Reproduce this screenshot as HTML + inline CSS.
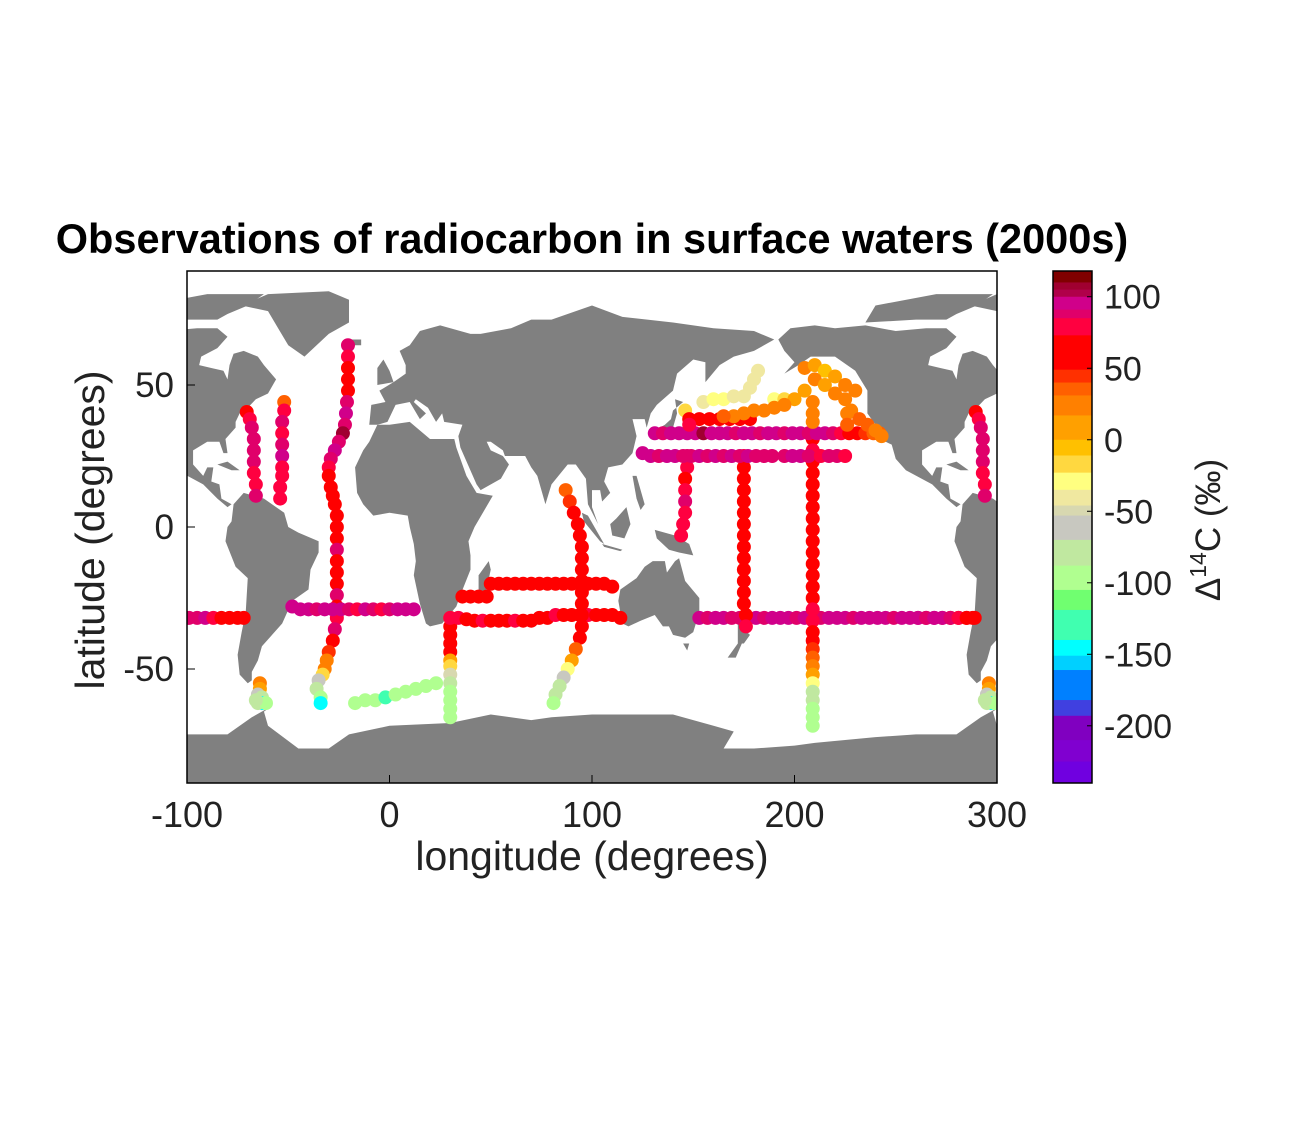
<!DOCTYPE html>
<html><head><meta charset="utf-8">
<style>
html,body{margin:0;padding:0;background:#fff;}
svg text{font-family:"Liberation Sans",sans-serif;}
</style></head>
<body>
<svg id="chart" width="1294" height="1116" viewBox="0 0 1294 1116" xmlns="http://www.w3.org/2000/svg">
<rect width="1294" height="1116" fill="#fff"/>
<text x="592" y="253" text-anchor="middle" font-size="41.5" font-weight="bold" fill="#000">Observations of radiocarbon in surface waters (2000s)</text>
<defs><clipPath id="plotclip"><rect x="187" y="271" width="810" height="512"/></clipPath></defs>
<g id="land" clip-path="url(#plotclip)"></g>
<g id="pts" clip-path="url(#plotclip)"></g>
<rect x="187" y="271" width="810" height="512" fill="none" stroke="#000" stroke-width="1.5"/>
<g id="axes"></g>
<g id="cbar"></g>
<text x="592" y="870" text-anchor="middle" font-size="41" fill="#222">longitude (degrees)</text>
<text transform="translate(104,530) rotate(-90)" text-anchor="middle" font-size="41" fill="#222">latitude (degrees)</text>
<text transform="translate(1220,530) rotate(-90)" text-anchor="middle" font-size="35" fill="#222">Δ<tspan dy="-14" font-size="23">14</tspan><tspan dy="14">C (‰)</tspan></text>
</svg>
<script>
// ---- axis definitions ----
const xTicks = [-100, 0, 100, 200, 300];
const yTicks = [-50, 0, 50];
const cbarTicks = [100, 50, 0, -50, -100, -150, -200];
const cbarMin = -240, cbarMax = 118;
// colormap band upper bounds (values) and colours
const cmapTops = [118, 110, 105, 100, 91, 85, 73, 49, 40, 31, 17, 0, -11, -23, -35, -46, -53, -70, -88, -105, -119, -140, -151, -161, -182, -193, -210, -225];
const cmapCols = ["#800000","#a00030","#b0004a","#d0008a","#e0006a","#ff0040","#ff0000","#ff3000","#ff6000","#ff8000","#ffa000","#ffc000","#ffd840","#ffff80","#f0e8a0","#d8d8b0","#c8c8c0","#c0e8a0","#b0ff90","#70ff70","#40ffb0","#00ffff","#00d0ff","#0080ff","#4040e0","#8000c0","#8000d0","#7000e0"];

// ---- observation tracks: [lon, lat, D14C] ----
const trackSPac = [[-99,-32,90],[-95,-32,88],[-91,-32,92],[-87,-32,85],[-83,-32,70],[-79,-32,65],[-75,-32,72],[-72,-32,65]];
const trackAtl = [[-20.5,64,90],[-20.5,60,80],[-20.5,56,65],[-20.5,52,62],[-20.5,48,70],[-21,44,88],[-21.5,40,92],[-22,36,90],[-23,33,108],[-25,30,90],[-27,27,92],[-29,24,88],[-30,21,75],[-30,18,70],[-29,14,65],[-28,11,60],[-27,8,65],[-26,4,60],[-26,0,62],[-26,-4,65],[-26,-8,90],[-26,-12,62],[-26,-16,65],[-26,-20,60],[-26,-24,88],[-26,-28,70],[-26,-32,80],[-27,-36,88],[-28,-40,60],[-30,-44,45],[-31,-47,30],[-32,-50,25],[-33,-52,-20],[-35,-54,-55],[-36,-57,-80],[-34,-60,-95],[-34,-62,-140]];
const trackWAtl1 = [[-70.5,40.5,60],[-69,38,75],[-68,35,90],[-67,31,90],[-67,27,88],[-67,23,90],[-67,19,85],[-66,15,75],[-66,11,90]];
const trackWAtl2 = [[-52,44,40],[-52,41,75],[-53,37,90],[-53,33,85],[-53,29,90],[-53,25,92],[-53,21,75],[-53,18,82],[-54,14,80],[-54,10,80]];
const trackSAtl = [[-48,-28,95],[-44,-29,92],[-40,-29,95],[-36,-29,90],[-32,-29,96],[-28,-29,100],[-24,-29,95],[-20,-29,90],[-16,-29,85],[-12,-29,95],[-8,-29,88],[-4,-29,85],[0,-29,90],[4,-29,95],[8,-29,92],[12,-29,95]];
const trackDrake = [[-64,-55,25],[-64,-57,5],[-65,-59,-60],[-63,-60,-70],[-63,-62,-150],[-65,-62,-80],[-61,-62,-100],[-66,-61,-70]];
const trackSouth = [[-17,-62,-100],[-12,-61,-100],[-7,-61,-95],[-2,-60,-130],[3,-59,-100],[8,-58,-95],[13,-57,-100],[18,-56,-100],[23,-55,-95]];
const trackAg = [[30,-32,40],[30,-35,55],[30,-38,60],[30,-41,60],[30,-44,55],[30,-47,10],[30,-49,-20],[30,-52,-50],[30,-55,-85],[30,-58,-100],[30,-61,-100],[30,-64,-100],[30,-67,-100]];
const trackInd20 = [[36,-24.5,65],[40,-24.5,65],[44,-24.5,62],[48,-24.5,65],[50,-20,65],[54,-20,62],[58,-20,65],[62,-20,60],[66,-20,65],[70,-20,62],[74,-20,65],[78,-20,60],[82,-20,65],[86,-20,62],[90,-20,65],[94,-20,60],[98,-20,62],[102,-20,65],[106,-20,62],[110,-21,70]];
const trackInd32 = [[30,-32,80],[34,-32,75],[38,-32.5,72],[42,-33,70],[46,-33,75],[50,-33,70],[54,-33,72],[58,-33,70],[62,-33,75],[66,-33,70],[70,-33,65],[74,-32,72],[78,-32,70],[82,-31,75],[86,-31,70],[90,-31,72],[94,-31,70],[98,-31,75],[102,-31,70],[106,-31,70],[110,-31,65],[114,-32,70]];
const trackI8 = [[87,13,35],[89,9,45],[91,5,55],[93,1,65],[94,-3,65],[95,-7,62],[95,-11,65],[95,-15,60],[95,-19,65],[95,-23,62],[95,-27,65],[95,-31,60],[95,-35,62],[94,-39,55],[92,-43,40],[90,-47,10],[88,-50,-30],[86,-53,-55],[84,-56,-75],[82,-59,-85],[81,-62,-95]];
const trackP6 = [[153,-32,92],[157,-32,90],[161,-32,95],[165,-32,92],[169,-32,88],[173,-32,90],[177,-32,92],[181,-32,95],[185,-32,90],[189,-32,92],[193,-32,95],[197,-32,92],[201,-32,90],[205,-32,92],[209,-32,95],[213,-32,90],[217,-32,92],[221,-32,95],[225,-32,92],[229,-32,90],[233,-32,100],[237,-32,95],[241,-32,92],[245,-32,95],[249,-32,90],[253,-32,92],[257,-32,95],[261,-32,92],[265,-32,90],[269,-32,92],[273,-32,95],[277,-32,90],[281,-32,80],[285,-32,70],[289,-32,65]];
const trackP15 = [[175,25,80],[175,21,70],[175,17,68],[175,13,65],[175,9,70],[175,5,65],[175,1,68],[175,-3,65],[175,-7,70],[175,-11,65],[175,-15,68],[175,-19,65],[175,-23,70],[175,-27,65],[176,-31,72],[176,-35,75]];
const trackP16 = [[209,31,70],[209,27,75],[209,23,68],[209,19,70],[209,15,65],[209,11,68],[209,7,70],[209,3,65],[209,-1,68],[209,-5,65],[209,-9,70],[209,-13,65],[209,-17,68],[209,-21,65],[209,-25,70],[209,-29,80],[209,-33,75],[209,-37,65],[209,-40,55],[209,-43,45],[209,-46,35],[209,-49,30],[209,-52,15],[209,-55,-30],[209,-58,-70],[209,-61,-85],[209,-64,-95],[209,-67,-100],[209,-70,-100]];
const trackWPac = [[147,25,90],[147,21,85],[146,17,70],[146,13,80],[146,9,90],[146,5,75],[145,1,80],[144,-3,75]];
const trackNP33 = [[131,33,95],[135,33,90],[139,33,92],[143,33,95],[147,33,100],[151,33,92],[155,33,108],[159,33,95],[163,33,92],[167,33,95],[171,33,90],[175,33,92],[179,33,95],[183,33,90],[187,33,92],[191,33,95],[195,33,90],[199,33,92],[203,33,95],[207,33,90],[211,33,92],[215,33,95],[219,33,90],[223,33,75],[227,33,60],[231,33,55],[235,33,45],[239,33,40],[242,33,35]];
const trackNP25 = [[125,26,92],[129,25,95],[133,25,90],[137,25,92],[141,25,95],[145,25,90],[149,25,88],[153,25,92],[157,25,90],[161,25,92],[165,25,90],[169,25,92],[173,25,90],[177,25,92],[181,25,90],[185,25,88],[189,25,90],[195,25,90],[199,25,92],[203,25,95],[207,25,90],[213,25,75],[217,25,88],[221,25,90],[225,25,85]];
const trackNP38 = [[146,41,-20],[148,38,65],[153,38,65],[158,38,68],[163,38,70],[168,38,62],[173,38,65],[178,38,60],[148,36,80]];
const trackNP46 = [[155,44,-35],[160,45,-30],[165,45,-30],[170,46,-35],[175,46,-40],[178,49,-40],[180,52,-45],[182,55,-45],[190,45,-25],[195,45,-20]];
const trackNEP = [[205,56,20],[210,57,15],[215,55,-10],[220,53,15],[225,50,20],[230,48,25],[210,52,20],[215,50,15],[220,47,20],[205,48,10],[200,45,15],[195,43,20],[190,42,25],[185,41,25],[180,41,30],[175,40,30],[170,39,30],[165,39,35],[225,45,25],[228,41,30],[232,38,35],[236,36,35],[240,34,30],[243,32,25],[209,44,20],[209,40,25],[209,37,30],[226,40,30],[226,36,35]];
const tracks = [trackSPac, trackAtl, trackWAtl1, trackWAtl2, trackSAtl, trackDrake, trackSouth, trackAg, trackInd20, trackInd32, trackI8, trackP6, trackP15, trackP16, trackWPac, trackNP33, trackNP25, trackNP38, trackNP46, trackNEP];

// ---- land polygons [lon,lat] ----
const landNA = [[-168,66],[-162,70],[-150,71],[-140,70],[-125,71],[-110,69],[-95,70],[-85,70],[-80,67],[-85,63],[-93,60],[-94,57],[-88,56],[-82,55],[-80,52],[-79,57],[-77,61],[-72,62],[-65,60],[-62,57],[-56,52],[-60,47],[-66,45],[-70,42],[-74,40],[-76,37],[-76,35],[-81,31],[-80,26],[-82,26],[-84,30],[-90,30],[-97,27],[-97,22],[-92,18],[-90,21],[-87,21],[-88,16],[-84,15],[-83,10],[-78,8],[-80,7],[-85,10],[-92,15],[-105,20],[-110,24],[-112,29],[-115,30],[-118,34],[-124,40],[-124,48],[-130,55],[-140,60],[-152,60],[-158,57],[-165,54],[-160,58],[-165,62]];
const landArctic = [[-125,72],[-100,73],[-85,73],[-80,75],[-70,78],[-62,82],[-90,82],[-120,78]];
const landGreen = [[-73,78],[-60,82],[-30,83],[-20,80],[-20,72],[-30,68],[-42,60],[-50,64],[-55,70],[-60,76]];
const landSA = [[-77,8],[-72,12],[-62,10],[-52,5],[-50,0],[-45,-2],[-35,-5],[-35,-9],[-39,-15],[-40,-22],[-48,-26],[-53,-34],[-58,-38],[-63,-42],[-65,-47],[-68,-51],[-68,-54],[-70,-55],[-74,-52],[-75,-45],[-73,-37],[-71,-30],[-70,-18],[-76,-14],[-81,-5],[-80,0],[-78,2]];
const landAfr = [[-17,21],[-16,12],[-13,8],[-8,4],[0,5],[9,4],[10,0],[12,-6],[13,-12],[12,-17],[15,-27],[18,-34],[20,-35],[26,-34],[33,-28],[35,-24],[40,-15],[40,-10],[39,-5],[42,0],[51,11],[43,12],[38,18],[33,28],[32,31],[20,31],[10,37],[0,36],[-6,36],[-10,30],[-13,27]];
const landMad = [[44,-25],[47,-25],[50,-15],[49,-12],[44,-17]];
const landEur = [[-10,36],[-9,43],[-2,44],[-5,48],[2,51],[8,54],[8,57],[5,62],[10,64],[15,69],[25,71],[40,68],[45,68],[60,70],[70,73],[80,73],[100,78],[115,74],[140,72],[160,70],[180,69],[190,66],[180,62],[170,60],[163,57],[156,51],[156,58],[150,59],[142,54],[140,48],[132,43],[129,40],[127,35],[126,38],[120,38],[122,32],[120,26],[115,22],[108,21],[106,16],[109,12],[105,9],[104,13],[100,13],[100,7],[103,1],[98,8],[97,17],[92,22],[88,22],[80,15],[77,8],[73,18],[70,21],[67,25],[57,25],[56,27],[50,30],[48,30],[50,27],[56,25],[59,22],[55,17],[45,13],[43,15],[35,28],[34,32],[36,36],[27,37],[26,40],[23,37],[19,42],[13,45],[12,44],[18,40],[15,38],[10,44],[3,43],[-1,37],[-6,36]];
const landUK = [[-6,50],[2,51],[0,55],[-3,59],[-6,56]];
const landIce = [[-24,64],[-14,64],[-14,66],[-22,66]];
const landJap = [[130,31],[135,34],[140,35],[142,40],[141,45],[145,44],[140,41],[139,38],[136,36],[131,34]];
const landSum = [[95,5],[98,4],[106,-6],[104,-5],[96,2]];
const landBor = [[109,1],[112,3],[117,7],[119,1],[116,-4],[110,-3]];
const landJava = [[105,-6],[115,-8],[114,-8.5],[106,-7]];
const landPNG = [[131,-1],[141,-3],[148,-6],[150,-10],[143,-9],[138,-8],[132,-4]];
const landPhil = [[120,18],[122,18],[126,8],[124,6],[122,10]];
const landAus = [[114,-22],[122,-18],[126,-14],[130,-12],[136,-12],[137,-16],[141,-12],[143,-11],[146,-19],[153,-25],[153,-30],[150,-37],[146,-39],[140,-38],[138,-35],[135,-35],[131,-31],[124,-33],[118,-35],[115,-34],[113,-26]];
const landTas = [[145,-41],[148,-41],[147,-43.5]];
const landNZ1 = [[172,-34],[178,-38],[175,-41],[172,-41]];
const landNZ2 = [[172,-41],[174,-41],[171,-46],[167,-46]];
const landCuba = [[-85,22],[-80,23],[-74,20],[-78,20]];
const landAnt = [[-180,-90],[-180,-78],[-160,-77],[-150,-76],[-120,-74],[-100,-73],[-80,-73],[-68,-67],[-58,-63],[-62,-65],[-60,-70],[-45,-78],[-30,-78],[-20,-73],[0,-70],[30,-69],[50,-66],[70,-68],[80,-67],[100,-66],[120,-66],[140,-66],[160,-70],[170,-72],[165,-78],[180,-78],[180,-90]];
const lands = [landNA, landArctic, landGreen, landSA, landAfr, landMad, landEur, landUK, landIce, landJap, landSum, landBor, landJava, landPNG, landPhil, landAus, landTas, landNZ1, landNZ2, landCuba, landAnt];

const NS = "http://www.w3.org/2000/svg";
const X0 = 187, X1 = 997, Y0 = 271, Y1 = 783;
function xs(lon){ return X0 + (lon + 100) / 400 * (X1 - X0); }
function ys(lat){ return 527 - lat * 2.84; }
function cy(v){ return Y0 + (cbarMax - v) / (cbarMax - cbarMin) * (Y1 - Y0); }
function cmap(v){
  let c = cmapCols[0];
  for (let i = 0; i < cmapTops.length; i++){ if (v <= cmapTops[i]) c = cmapCols[i]; }
  return c;
}

const landG = document.getElementById('land');
lands.forEach(poly => {
  [-360, 0, 360].forEach(sh => {
    const p = document.createElementNS(NS, 'polygon');
    p.setAttribute('points', poly.map(q => xs(q[0] + sh) + ',' + ys(q[1])).join(' '));
    p.setAttribute('fill', '#808080');
    
    
    landG.appendChild(p);
  });
});

const ptG = document.getElementById('pts');
tracks.forEach(tr => {
  tr.forEach(d => {
    [0, 360].forEach(sh => {
      const c = document.createElementNS(NS, 'circle');
      c.setAttribute('cx', xs(d[0] + sh));
      c.setAttribute('cy', ys(d[1]));
      c.setAttribute('r', 7);
      c.setAttribute('fill', cmap(d[2]));
      
      
      ptG.appendChild(c);
    });
  });
});

const ax = document.getElementById('axes');
xTicks.forEach(t => {
  const x = xs(t);
  const l = document.createElementNS(NS, 'line');
  l.setAttribute('x1', x); l.setAttribute('x2', x); l.setAttribute('y1', Y1); l.setAttribute('y2', Y1 - 8);
  l.setAttribute('stroke', '#000');
  
  
  ax.appendChild(l);
  const tx = document.createElementNS(NS, 'text');
  tx.setAttribute('x', x); tx.setAttribute('y', 827);
  tx.setAttribute('text-anchor', 'middle'); tx.setAttribute('font-size', '36'); tx.setAttribute('fill', '#222');
  tx.textContent = t;
  
  
  ax.appendChild(tx);
});
yTicks.forEach(t => {
  const y = ys(t);
  const l = document.createElementNS(NS, 'line');
  l.setAttribute('x1', X0); l.setAttribute('x2', X0 + 8); l.setAttribute('y1', y); l.setAttribute('y2', y);
  l.setAttribute('stroke', '#000');
  
  
  ax.appendChild(l);
  const tx = document.createElementNS(NS, 'text');
  tx.setAttribute('x', 174); tx.setAttribute('y', y + 12);
  tx.setAttribute('text-anchor', 'end'); tx.setAttribute('font-size', '35'); tx.setAttribute('fill', '#222');
  tx.textContent = t;
  
  
  ax.appendChild(tx);
});

const cb = document.getElementById('cbar');
const CX = 1053, CW = 39;
for (let i = 0; i < cmapTops.length; i++){
  const top = cy(cmapTops[i]);
  const bot = i + 1 < cmapTops.length ? cy(cmapTops[i + 1]) : Y1;
  const r = document.createElementNS(NS, 'rect');
  r.setAttribute('x', CX); r.setAttribute('y', top); r.setAttribute('width', CW); r.setAttribute('height', bot - top + 0.5);
  r.setAttribute('fill', cmapCols[i]);
  
  
  cb.appendChild(r);
}
const fr = document.createElementNS(NS, 'rect');
fr.setAttribute('x', CX); fr.setAttribute('y', Y0); fr.setAttribute('width', CW); fr.setAttribute('height', Y1 - Y0);
fr.setAttribute('fill', 'none'); fr.setAttribute('stroke', '#000'); fr.setAttribute('stroke-width', '1.5');


cb.appendChild(fr);
cbarTicks.forEach(t => {
  const y = cy(t);
  const l = document.createElementNS(NS, 'line');
  l.setAttribute('x1', CX + CW - 5); l.setAttribute('x2', CX + CW); l.setAttribute('y1', y); l.setAttribute('y2', y);
  l.setAttribute('stroke', '#000');
  
  
  cb.appendChild(l);
  const tx = document.createElementNS(NS, 'text');
  tx.setAttribute('x', 1104); tx.setAttribute('y', y + 12);
  tx.setAttribute('font-size', '34'); tx.setAttribute('fill', '#222');
  tx.textContent = t;
  
  
  cb.appendChild(tx);
});
</script>
</body></html>
